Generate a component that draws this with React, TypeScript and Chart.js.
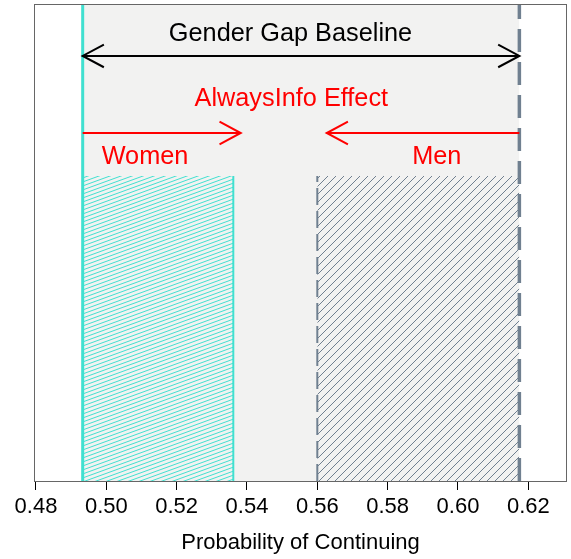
import React, { useEffect, useRef } from "react";
import { Chart, registerables } from "chart.js";

Chart.register(...registerables);

// ---- data ----
const xTicks = [0.48, 0.5, 0.52, 0.54, 0.56, 0.58, 0.6, 0.62];
const xRange = [0.47972, 0.63072];
const womenBaseline = 0.49328; // women's baseline probability
const menBaseline = 0.61746; // men's baseline probability
const womenAlwaysInfo = 0.53611; // women with AlwaysInfo
const menAlwaysInfo = 0.56; // men with AlwaysInfo
const effectBarTop = 0.6408;
const gapArrowY = 0.8929;
const effectArrowY = 0.7311;
const womenArrowTip = 0.53822;
const menArrowTip = 0.56268;
const labelTexts = ["Gender Gap Baseline", "AlwaysInfo Effect", "Women", "Men"];
const labelX = [0.55238, 0.55261, 0.511, 0.59396];
const labelY = [0.925, 0.788, 0.667, 0.667];

const CYAN = "#40E0D0";
const SLATE = "#708090";
const RED = "#FF0000";
const FONT = "'Liberation Sans', Arial, Helvetica, sans-serif";

function makeHatch(color: string, w: number, h: number, lw: number): CanvasPattern | string {
  const c = document.createElement("canvas");
  c.width = w;
  c.height = h;
  const ctx = c.getContext("2d");
  if (!ctx) return color;
  ctx.strokeStyle = color;
  ctx.lineWidth = lw;
  for (let k = -1; k <= 1; k++) {
    ctx.beginPath();
    ctx.moveTo(0, h + h * k);
    ctx.lineTo(w, h * k);
    ctx.stroke();
  }
  return ctx.createPattern(c, "repeat") || color;
}

export default function App() {
  const ref = useRef<HTMLCanvasElement | null>(null);

  useEffect(() => {
    if (!ref.current) return;
    const cyanHatch = makeHatch(CYAN, 11, 4, 1);
    const slateHatch = makeHatch(SLATE, 8, 8, 1);

    const seg = (pts: { x: number; y: number }[], extra: any) => ({
      data: pts,
      showLine: true,
      pointRadius: 0,
      pointHoverRadius: 0,
      fill: false,
      borderWidth: 0,
      ...extra,
    });

    const arrowHeads = [
      { from: menBaseline, to: womenBaseline, y: gapArrowY, color: "#000" },
      { from: womenBaseline, to: menBaseline, y: gapArrowY, color: "#000" },
      { from: womenBaseline, to: womenArrowTip, y: effectArrowY, color: RED },
      { from: menBaseline, to: menArrowTip, y: effectArrowY, color: RED },
    ];
    const labelColors = ["#000", RED, RED, RED];

    const overlay = {
      id: "overlay",
      afterDatasetsDraw(chart: any) {
        const { ctx, chartArea, scales } = chart;
        const xs = scales.x;
        const ys = scales.y;
        ctx.save();
        arrowHeads.forEach((a) => {
          const tx = xs.getPixelForValue(a.to);
          const fx = xs.getPixelForValue(a.from);
          const py = ys.getPixelForValue(a.y);
          const dir = tx > fx ? -1 : 1;
          const len = 24;
          const ang = (28 * Math.PI) / 180;
          ctx.strokeStyle = a.color;
          ctx.lineWidth = 2;
          ctx.beginPath();
          ctx.moveTo(tx + dir * len * Math.cos(ang), py - len * Math.sin(ang));
          ctx.lineTo(tx, py);
          ctx.lineTo(tx + dir * len * Math.cos(ang), py + len * Math.sin(ang));
          ctx.stroke();
        });
        ctx.font = `25.3px ${FONT}`;
        ctx.textAlign = "center";
        ctx.textBaseline = "alphabetic";
        labelTexts.forEach((t, i) => {
          ctx.fillStyle = labelColors[i];
          ctx.fillText(t, xs.getPixelForValue(labelX[i]), ys.getPixelForValue(labelY[i]));
        });
        ctx.strokeStyle = "#666";
        ctx.lineWidth = 1;
        ctx.strokeRect(
          Math.round(chartArea.left) - 0.5,
          Math.round(chartArea.top) - 0.5,
          Math.round(chartArea.right - chartArea.left) + 1,
          Math.round(chartArea.bottom - chartArea.top) + 1
        );
        ctx.restore();
      },
    };

    const chart = new Chart(ref.current, {
      type: "scatter",
      data: {
        datasets: [
          // top-most first (Chart.js draws dataset 0 last)
          seg([{ x: womenBaseline, y: gapArrowY }, { x: menBaseline, y: gapArrowY }], { borderColor: "#000", borderWidth: 2 }),
          seg([{ x: womenBaseline, y: effectArrowY }, { x: womenArrowTip, y: effectArrowY }], { borderColor: RED, borderWidth: 2 }),
          seg([{ x: menBaseline, y: effectArrowY }, { x: menArrowTip, y: effectArrowY }], { borderColor: RED, borderWidth: 2 }),
          seg([{ x: womenBaseline, y: 0 }, { x: womenBaseline, y: 1 }], { borderColor: CYAN, borderWidth: 3 }),
          seg([{ x: menBaseline, y: 0 }, { x: menBaseline, y: 1 }], { borderColor: SLATE, borderWidth: 3.5, borderDash: [23, 10] }),
          seg([{ x: womenAlwaysInfo, y: 0 }, { x: womenAlwaysInfo, y: effectBarTop }], { borderColor: CYAN, borderWidth: 2 }),
          seg([{ x: menAlwaysInfo, y: 0 }, { x: menAlwaysInfo, y: effectBarTop }], { borderColor: SLATE, borderWidth: 2, borderDash: [17, 6] }),
          seg([{ x: womenBaseline, y: effectBarTop }, { x: womenAlwaysInfo, y: effectBarTop }], { fill: "start", backgroundColor: cyanHatch, borderColor: "rgba(0,0,0,0)" }),
          seg([{ x: menAlwaysInfo, y: effectBarTop }, { x: menBaseline, y: effectBarTop }], { fill: "start", backgroundColor: slateHatch, borderColor: "rgba(0,0,0,0)" }),
          seg([{ x: womenBaseline, y: 1 }, { x: menBaseline, y: 1 }], { fill: "start", backgroundColor: "#F2F2F1", borderColor: "rgba(0,0,0,0)" }),
        ],
      },
      options: {
        responsive: false,
        animation: false,
        events: [],
        layout: { padding: { left: 35, right: 5, top: 5, bottom: 0 } },
        plugins: { legend: { display: false }, tooltip: { enabled: false } },
        scales: {
          x: {
            type: "linear",
            position: "bottom",
            min: xRange[0],
            max: xRange[1],
            afterBuildTicks: (axis: any) => {
              axis.ticks = xTicks.map((v) => ({ value: v }));
            },
            afterFit: (axis: any) => {
              axis.height = 78;
            },
            ticks: {
              callback: (v: any) => Number(v).toFixed(2),
              font: { size: 22, family: FONT },
              color: "#000",
              padding: 4,
              maxRotation: 0,
              autoSkip: false,
            },
            grid: { drawOnChartArea: false, drawTicks: true, tickLength: 9, color: "#000", lineWidth: 1 },
            border: { display: true, color: "#000", width: 1 },
            title: {
              display: true,
              text: "Probability of Continuing",
              font: { size: 22, family: FONT },
              color: "#000",
              padding: { top: 0, bottom: 3 },
            },
          },
          y: { type: "linear", min: 0, max: 1, display: false },
        },
      },
      plugins: [overlay],
    } as any);
    return () => chart.destroy();
  }, []);

  return (
    <div style={{ position: "absolute", left: 0, top: 0, width: 571, height: 559, background: "#fff" }}>
      <canvas ref={ref} width={571} height={559} style={{ display: "block" }} />
    </div>
  );
}
